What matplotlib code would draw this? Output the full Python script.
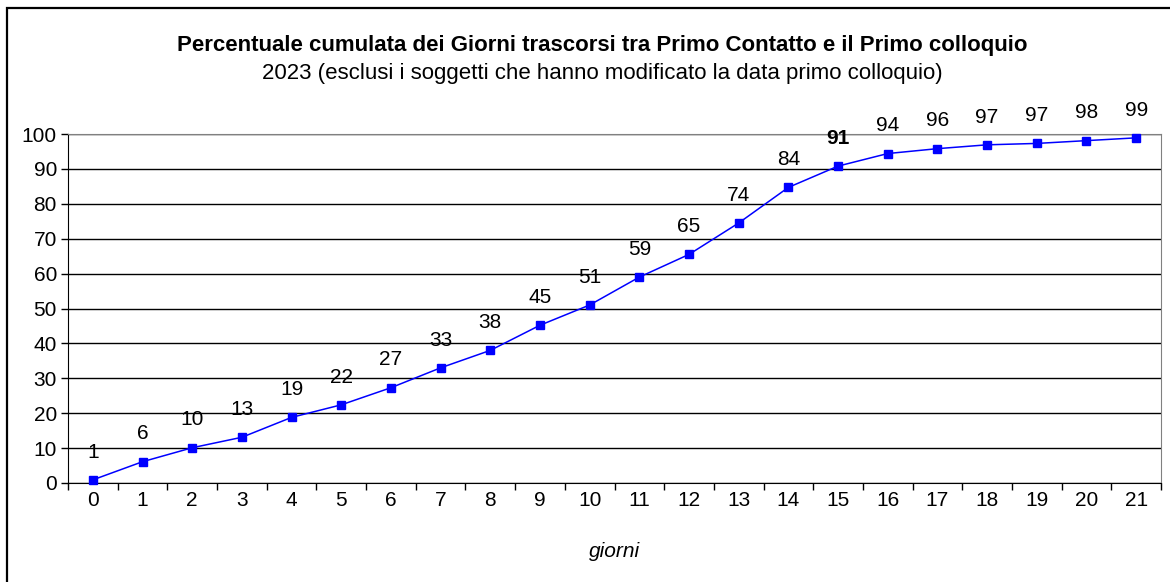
import matplotlib.pyplot as plt
from matplotlib.patches import Rectangle

plt.rcParams["font.family"] = ["Liberation Sans", "DejaVu Sans"]

giorni = list(range(22))
percentuale = [0.9, 6.1, 10.1, 13.1, 18.8, 22.4, 27.3, 33.0, 38.0, 45.2, 51.0,
               59.0, 65.5, 74.5, 84.7, 90.8, 94.4, 95.8, 96.9, 97.3, 98.1, 98.9]
etichette = [1, 6, 10, 13, 19, 22, 27, 33, 38, 45, 51,
             59, 65, 74, 84, 91, 94, 96, 97, 97, 98, 99]
evidenziato = 15

fig = plt.figure(figsize=(11.7, 5.82), dpi=100)
ax = fig.add_axes([68 / 1170, 99 / 582, 1093 / 1170, 349 / 582])

# bordo esterno del grafico
fig.patches.append(Rectangle((7 / 1170, -0.02), 1.05, 1 - 8 / 582 + 0.02,
                             transform=fig.transFigure, fill=False,
                             edgecolor="black", linewidth=1.6))

ax.plot(giorni, percentuale, color="#0000ff", linewidth=1.1,
        marker="s", markersize=6, zorder=3, clip_on=False)

for x, y, lab in zip(giorni, percentuale, etichette):
    ax.annotate(str(lab), (x, y), xytext=(0, 20), textcoords="offset points",
                ha="center", va="center", fontsize=15,
                fontweight="bold" if x == evidenziato else "normal")

ax.set_xlim(-0.5, 21.5)
ax.set_ylim(0, 100)
ax.set_yticks(range(0, 101, 10))
ax.set_xticks(giorni)
ax.set_xticks([i + 0.5 for i in range(-1, 22)], minor=True)
ax.tick_params(axis="x", which="major", length=0, pad=6, labelsize=15)
ax.tick_params(axis="x", which="minor", length=5, width=1, direction="out")
ax.tick_params(axis="y", length=5, width=1, direction="out", labelsize=15, pad=3)

ax.grid(axis="y", color="black", linewidth=1)
ax.set_axisbelow(True)
ax.spines["top"].set_color("#808080")
ax.spines["right"].set_color("#808080")

ax.set_xlabel("giorni", fontstyle="italic", fontsize=15, labelpad=23)

fig.text(0.515, 1 - 45 / 582, "Percentuale cumulata dei Giorni trascorsi tra Primo Contatto e il Primo colloquio",
         ha="center", va="center", fontsize=16, fontweight="bold")
fig.text(0.515, 1 - 73 / 582, "2023 (esclusi i soggetti che hanno modificato la data primo colloquio)",
         ha="center", va="center", fontsize=16)

fig.savefig("out.png", dpi=100)
